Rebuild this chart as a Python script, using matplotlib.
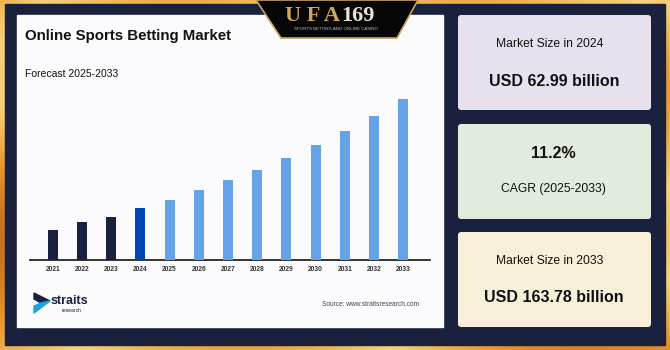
import matplotlib
matplotlib.use("Agg")
import matplotlib.pyplot as plt
import numpy as np
from matplotlib.patches import Rectangle, FancyBboxPatch, Polygon

plt.rcParams['font.family'] = ['Liberation Sans', 'DejaVu Sans']

# values (USD billion)
years = ['2021', '2022', '2023', '2024', '2025', '2026', '2027',
         '2028', '2029', '2030', '2031', '2032', '2033']
market = [42.6, 50.0, 54.7, 62.99, 70.4, 79.6, 89.0,
          98.1, 109.2, 121.2, 134.2, 148.0, 163.78]
bar_colors = ['#18223f'] * 3 + ['#0047b3'] + ['#64a3e6'] * 9

title = "Online Sports Betting Market"
subtitle = "Forecast 2025-2033"
source = "Source: www.straitsresearch.com"
cards = [
    ("Market Size in 2024", "USD 62.99 billion", '#e7e1ee', False),
    ("11.2%", "CAGR (2025-2033)", '#e2ecdc', True),
    ("Market Size in 2033", "USD 163.78 billion", '#f8efd9', False),
]

W, H = 670, 350
fig = plt.figure(figsize=(6.7, 3.5), dpi=100)

# background layer in pixel coordinates
bg = fig.add_axes([0, 0, 1, 1])
bg.set_xlim(0, W)
bg.set_ylim(H, 0)
bg.axis('off')

# gold gradient frame
gx = np.linspace(0, 1, 200)
gy = np.linspace(0, 1, 100)
GX, GY = np.meshgrid(gx, gy)
grad = 0.5 + 0.35 * np.sin(GX * 5 + GY * 3) * np.cos(GY * 4 - GX * 2)
cmap = matplotlib.colors.LinearSegmentedColormap.from_list(
    'gold', ['#b8671a', '#e8962a', '#f6d27a', '#e9a43a'])
bg.imshow(grad, cmap=cmap, extent=[0, W, H, 0], aspect='auto', zorder=0)

bg.add_patch(Rectangle((5, 4), 660, 341, color='#19213f', zorder=1))
bg.add_patch(Rectangle((17, 15), 426, 312, color='#fbfbfe', zorder=2))

# UFA169 badge
bg.add_patch(Polygon([(256, 0), (418, 0), (397, 38), (281, 38)],
                     closed=True, facecolor='#070707', edgecolor='#c9a25a',
                     linewidth=1.2, zorder=3))
bg.text(340, 16, "U F A", fontsize=16, fontweight='bold', family='Liberation Serif',
        color='#cfa85c', ha='right', va='center', zorder=4)
bg.text(341, 16, "169", fontsize=16, fontweight='bold', family='Liberation Serif',
        color='#e8e2d6', ha='left', va='center', zorder=4)
bg.text(336, 29.5, "SPORTS BETTING AND ONLINE CASINO", fontsize=3.2,
        color='#bdbdbd', ha='center', va='center', zorder=4)

# titles
bg.text(25, 36, title, fontsize=10.8, fontweight='bold', color='#111111',
        ha='left', va='center', zorder=4)
bg.text(25, 74, subtitle, fontsize=7.5, color='#111111',
        ha='left', va='center', zorder=4)
bg.text(419, 305, source, fontsize=4.7, color='#444444',
        ha='right', va='center', zorder=4)

# straits logo
bg.add_patch(Polygon([(34, 293), (50, 301), (41, 303), (34, 299)],
                     closed=True, color='#18223f', zorder=4))
bg.add_patch(Polygon([(34, 313), (50, 301), (41, 303), (34, 306)],
                     closed=True, color='#1fa3e0', zorder=4))
bg.text(51, 301, "straits", fontsize=9, fontweight='bold', color='#18223f',
        ha='left', va='center', zorder=4)
bg.text(62, 310, "research", fontsize=3.6, color='#18223f',
        ha='left', va='center', zorder=4)

# right-hand cards
card_tops = [15, 124, 232]
for (top_txt, bot_txt, col, top_bold), y0 in zip(cards, card_tops):
    bg.add_patch(FancyBboxPatch((458, y0), 193, 95,
                                boxstyle='round,pad=0,rounding_size=3',
                                facecolor=col, edgecolor='none', zorder=2))
    if top_bold:
        bg.text(553, y0 + 30, top_txt, fontsize=11.5, fontweight='bold',
                color='#111111', ha='center', va='center', zorder=4)
        bg.text(553, y0 + 65, bot_txt, fontsize=8.7, color='#111111',
                ha='center', va='center', zorder=4)
    else:
        bg.text(550, y0 + 29, top_txt, fontsize=8.7, color='#111111',
                ha='center', va='center', zorder=4)
        bg.text(554, y0 + 66, bot_txt, fontsize=11.5, fontweight='bold',
                color='#111111', ha='center', va='center', zorder=4)

# bar chart
ax = fig.add_axes([30 / W, (H - 260) / H, 400 / W, 161 / H])
ax.patch.set_alpha(0)
x = np.arange(len(years))
ax.bar(x, market, width=0.34, color=bar_colors, zorder=3)
ax.set_xlim(-0.78, 12.92)
ax.set_ylim(14.9, 163.78)
ax.set_xticks(x)
ax.set_xticklabels(years, fontsize=4.8, fontweight='bold', color='#333333')
ax.tick_params(axis='x', length=0, pad=4.5)
ax.set_yticks([])
for s in ['top', 'right', 'left']:
    ax.spines[s].set_visible(False)
ax.spines['bottom'].set_linewidth(1.2)
ax.spines['bottom'].set_color('#111111')

fig.savefig('out.png', dpi=100)
